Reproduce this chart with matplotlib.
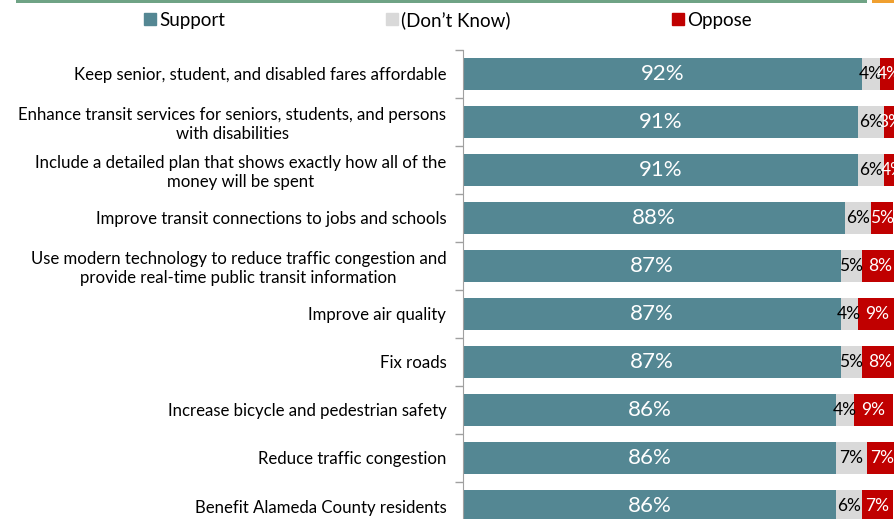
import matplotlib
matplotlib.use("Agg")
import matplotlib.pyplot as plt
import numpy as np
from matplotlib.patches import Rectangle
from matplotlib.lines import Line2D

categories = [
    "Keep senior, student, and disabled fares affordable",
    "Enhance transit services for seniors, students, and persons\nwith disabilities",
    "Include a detailed plan that shows exactly how all of the\nmoney will be spent",
    "Improve transit connections to jobs and schools",
    "Use modern technology to reduce traffic congestion and\nprovide real-time public transit information",
    "Improve air quality",
    "Fix roads",
    "Increase bicycle and pedestrian safety",
    "Reduce traffic congestion",
    "Benefit Alameda County residents",
]
support = [92, 91, 91, 88, 87, 87, 87, 86, 86, 86]
dont_know = [4, 6, 6, 6, 5, 4, 5, 4, 7, 6]
oppose = [4, 3, 4, 5, 8, 9, 8, 9, 7, 7]
series_names = ["Support", "(Don\u2019t Know)", "Oppose"]
colors = ["#548793", "#d9d9d9", "#c00000"]

plt.rcParams["font.family"] = ["Lato", "DejaVu Sans"]

W, H = 894, 519
fig = plt.figure(figsize=(W / 100, H / 100), dpi=100)

# axes: left spine at x=463, 100% at x=897, top at y=50, bottom at y=530
ax = fig.add_axes([463 / W, (H - 530) / H, (897 - 463) / W, (530 - 50) / H])

n = len(categories)
y = np.arange(n)
h = 0.67
s = np.array(support)
d = np.array(dont_know)
o = np.array(oppose)
ax.barh(y, s, height=h, color=colors[0])
ax.barh(y, d, left=s, height=h, color=colors[1])
ax.barh(y, o, left=s + d, height=h, color=colors[2])

for i in range(n):
    ax.text(s[i] / 2, y[i], f"{s[i]}%", ha="center", va="center",
            color="white", fontsize=16)
    ax.text(s[i] + d[i] / 2, y[i], f"{d[i]}%", ha="center", va="center",
            color="black", fontsize=12.5)
    ax.text(s[i] + d[i] + o[i] / 2, y[i], f"{o[i]}%", ha="center", va="center",
            color="white", fontsize=12.5)

ax.set_xlim(0, 100)
ax.set_ylim(n - 0.5, -0.5)
ax.set_yticks(y)
ax.set_yticklabels(categories, fontsize=12.1, multialignment="center")
ax.tick_params(axis="y", which="major", length=0, pad=12)
ax.set_yticks(np.arange(n + 1) - 0.5, minor=True)
ax.tick_params(axis="y", which="minor", length=6, color="#a0a0a0", width=1)
ax.set_xticks([])
for sp in ["top", "right", "bottom"]:
    ax.spines[sp].set_visible(False)
ax.spines["left"].set_color("#a0a0a0")

# legend
handles = [Line2D([], [], marker="s", linestyle="none", markersize=8,
                  markerfacecolor=c, markeredgecolor=c) for c in colors]
fig.legend(handles, series_names, loc="center", bbox_to_anchor=(0.5, 1 - 20 / H),
           ncol=3, frameon=False, fontsize=13.5, handletextpad=0.1,
           columnspacing=8.5, handlelength=0.8)

# decorative top rule
fig.add_artist(Rectangle((16 / W, 1 - 3 / H), (867 - 16) / W, 3 / H,
                         transform=fig.transFigure, color="#6fa385", lw=0))
fig.add_artist(Rectangle((872 / W, 1 - 3 / H), (894 - 872) / W, 3 / H,
                         transform=fig.transFigure, color="#f0a030", lw=0))

fig.savefig("out.png", dpi=100)
